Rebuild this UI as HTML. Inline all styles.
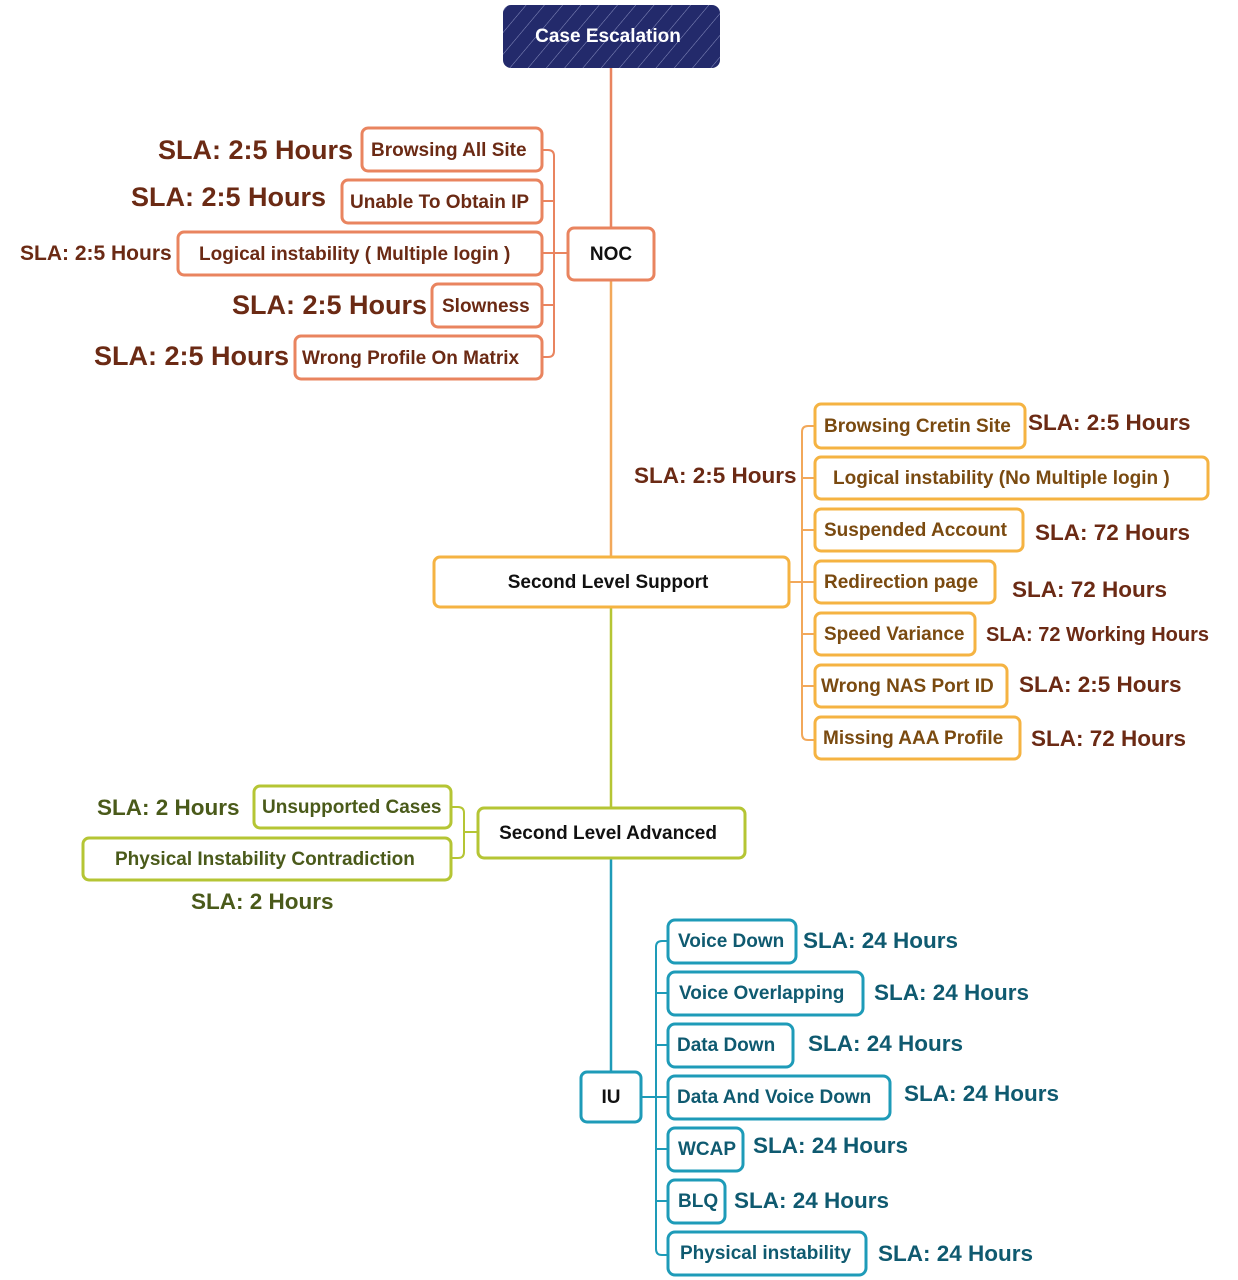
<!DOCTYPE html>
<html><head><meta charset="utf-8"><style>
html,body{margin:0;padding:0;background:#fff}
svg{display:block;font-family:"Liberation Sans",sans-serif;font-weight:bold}
</style></head><body>
<svg width="1238" height="1280" viewBox="0 0 1238 1280" xmlns="http://www.w3.org/2000/svg">
<defs>
<pattern id="hatch" width="14" height="14" patternUnits="userSpaceOnUse" patternTransform="rotate(40)">
<rect width="14" height="14" fill="#232a6b"/><line x1="0" y1="0" x2="0" y2="14" stroke="#8a90c0" stroke-width="1"/>
</pattern>
</defs>
<line x1="611" y1="68" x2="611" y2="228" stroke="#e9845f" stroke-width="2.5"/>
<line x1="611" y1="280" x2="611" y2="557" stroke="#f2a85a" stroke-width="2.5"/>
<line x1="611" y1="607" x2="611" y2="808" stroke="#b5c534" stroke-width="2.5"/>
<line x1="611" y1="858" x2="611" y2="1072" stroke="#1e9bb8" stroke-width="2.5"/>
<rect x="503" y="5" width="217" height="63" rx="8" fill="url(#hatch)"/>
<text x="608" y="42" fill="#fff" font-size="19" text-anchor="middle">Case Escalation</text>

<g fill="none" stroke="#e9845f" stroke-width="2">
<path d="M542 150 h6 q6 0 6 6 v195 q0 6 -6 6 h-6 M542 201 h12 M542 253 h26 M542 305 h12"/>
</g>
<g fill="#fff" stroke="#e9845f" stroke-width="3">
<rect x="568" y="228" width="86" height="52" rx="6"/>
<rect x="362" y="128" width="180" height="43" rx="6"/>
<rect x="342" y="180" width="200" height="43" rx="6"/>
<rect x="178" y="232" width="364" height="43" rx="6"/>
<rect x="432" y="284" width="110" height="43" rx="6"/>
<rect x="295" y="336" width="247" height="43" rx="6"/>
</g>
<text x="611" y="260" font-size="19" text-anchor="middle" fill="#111">NOC</text>
<g fill="#6b2a14" font-size="19">
<text x="371" y="156">Browsing All Site</text>
<text x="350" y="208">Unable To Obtain IP</text>
<text x="199" y="260">Logical instability ( Multiple login )</text>
<text x="442" y="312">Slowness</text>
<text x="302" y="364">Wrong Profile On Matrix</text>
</g>
<g fill="#6b2a14">
<text x="158" y="159" font-size="27">SLA: 2:5 Hours</text>
<text x="131" y="206" font-size="27">SLA: 2:5 Hours</text>
<text x="20" y="260" font-size="21">SLA: 2:5 Hours</text>
<text x="232" y="314" font-size="27">SLA: 2:5 Hours</text>
<text x="94" y="365" font-size="27">SLA: 2:5 Hours</text>
</g>

<g fill="none" stroke="#f2a85a" stroke-width="2">
<path d="M815 426 h-7 q-6 0 -6 6 v302 q0 6 6 6 h7 M802 478 h13 M802 530 h13 M789 582 h26 M802 634 h13 M802 686 h13"/>
</g>
<g fill="#fff" stroke="#f5b342" stroke-width="3">
<rect x="434" y="557" width="355" height="50" rx="6"/>
<rect x="815" y="404" width="210" height="44" rx="6"/>
<rect x="815" y="457" width="393" height="42" rx="6"/>
<rect x="815" y="509" width="208" height="42" rx="6"/>
<rect x="815" y="561" width="180" height="42" rx="6"/>
<rect x="815" y="613" width="160" height="42" rx="6"/>
<rect x="815" y="665" width="192" height="42" rx="6"/>
<rect x="815" y="717" width="205" height="42" rx="6"/>
</g>
<text x="608" y="588" font-size="19" text-anchor="middle" fill="#111">Second Level Support</text>
<g fill="#7a4a10" font-size="19">
<text x="824" y="432">Browsing Cretin Site</text>
<text x="833" y="484">Logical instability (No  Multiple login )</text>
<text x="824" y="536">Suspended Account</text>
<text x="824" y="588">Redirection page</text>
<text x="824" y="640">Speed Variance</text>
<text x="821" y="692">Wrong NAS Port ID</text>
<text x="823" y="744">Missing AAA Profile</text>
</g>
<g fill="#6b2a14" font-size="22.5">
<text x="1028" y="430">SLA: 2:5 Hours</text>
<text x="634" y="483">SLA: 2:5 Hours</text>
<text x="1035" y="540">SLA: 72 Hours</text>
<text x="1012" y="597">SLA: 72 Hours</text>
<text x="986" y="641" font-size="20">SLA: 72 Working Hours</text>
<text x="1019" y="692">SLA: 2:5 Hours</text>
<text x="1031" y="746">SLA: 72 Hours</text>
</g>

<g fill="none" stroke="#b5c534" stroke-width="2">
<path d="M451 807 h7 q6 0 6 6 v39 q0 6 -6 6 h-7 M464 832 h14"/>
</g>
<g fill="#fff" stroke="#b5c534" stroke-width="3">
<rect x="478" y="808" width="267" height="50" rx="6"/>
<rect x="254" y="786" width="197" height="42" rx="6"/>
<rect x="83" y="838" width="368" height="42" rx="6"/>
</g>
<text x="608" y="839" font-size="19" text-anchor="middle" fill="#111">Second Level Advanced</text>
<g fill="#4a5a1a" font-size="19">
<text x="262" y="813">Unsupported Cases</text>
<text x="115" y="865">Physical Instability Contradiction</text>
</g>
<g fill="#4a5a1a" font-size="22.5">
<text x="97" y="815">SLA: 2 Hours</text>
<text x="191" y="909">SLA: 2 Hours</text>
</g>

<g fill="none" stroke="#1e9bb8" stroke-width="2">
<path d="M668 941 h-6 q-6 0 -6 6 v302 q0 6 6 6 h6 M656 993 h12 M656 1045 h12 M641 1097 h27 M656 1149 h12 M656 1201 h12"/>
</g>
<g fill="#fff" stroke="#1e9bb8" stroke-width="3">
<rect x="581" y="1072" width="60" height="50" rx="6"/>
<rect x="668" y="920" width="128" height="43" rx="7"/>
<rect x="668" y="972" width="195" height="43" rx="7"/>
<rect x="668" y="1024" width="125" height="43" rx="7"/>
<rect x="668" y="1076" width="222" height="43" rx="7"/>
<rect x="668" y="1128" width="75" height="43" rx="7"/>
<rect x="668" y="1180" width="57" height="43" rx="7"/>
<rect x="668" y="1232" width="198" height="43" rx="7"/>
</g>
<text x="611" y="1103" font-size="19" text-anchor="middle" fill="#111">IU</text>
<g fill="#0f5a70" font-size="19">
<text x="678" y="947">Voice Down</text>
<text x="679" y="999">Voice Overlapping</text>
<text x="677" y="1051">Data Down</text>
<text x="677" y="1103">Data And Voice Down</text>
<text x="678" y="1155">WCAP</text>
<text x="678" y="1207">BLQ</text>
<text x="680" y="1259">Physical instability</text>
</g>
<g fill="#0f5a70" font-size="22.5">
<text x="803" y="948">SLA: 24 Hours</text>
<text x="874" y="1000">SLA: 24 Hours</text>
<text x="808" y="1051">SLA: 24 Hours</text>
<text x="904" y="1101">SLA: 24 Hours</text>
<text x="753" y="1153">SLA: 24 Hours</text>
<text x="734" y="1208">SLA: 24 Hours</text>
<text x="878" y="1261">SLA: 24 Hours</text>
</g>
</svg>
</body></html>
